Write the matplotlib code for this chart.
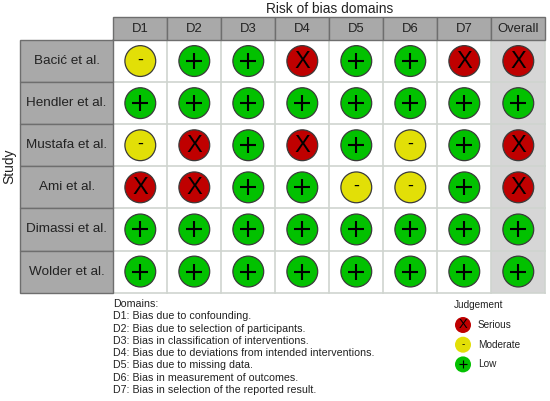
import matplotlib
matplotlib.use("Agg")
import matplotlib.pyplot as plt
from matplotlib.patches import Rectangle, Circle

plt.rcParams["font.family"] = ["Liberation Sans", "DejaVu Sans"]

studies = ["Bacić et al.", "Hendler et al.", "Mustafa et al.", "Ami et al.",
           "Dimassi et al.", "Wolder et al."]
domains = ["D1", "D2", "D3", "D4", "D5", "D6", "D7", "Overall"]

# judgements per study: S = serious, M = moderate, L = low
judgements = [
    ["M", "L", "L", "S", "L", "L", "S", "S"],
    ["L", "L", "L", "L", "L", "L", "L", "L"],
    ["M", "S", "L", "S", "L", "M", "L", "S"],
    ["S", "S", "L", "L", "M", "M", "L", "S"],
    ["L", "L", "L", "L", "L", "L", "L", "L"],
    ["L", "L", "L", "L", "L", "L", "L", "L"],
]

domain_text = [
    "Domains:",
    "D1: Bias due to confounding.",
    "D2: Bias due to selection of participants.",
    "D3: Bias in classification of interventions.",
    "D4: Bias due to deviations from intended interventions.",
    "D5: Bias due to missing data.",
    "D6: Bias in measurement of outcomes.",
    "D7: Bias in selection of the reported result.",
]
legend_levels = ["S", "M", "L"]
legend_names = ["Serious", "Moderate", "Low"]

colors = {"S": "#BF0000", "M": "#E2DF07", "L": "#02C100"}
symbols = {"S": "X", "M": "-", "L": "+"}


def draw_symbol(ax, cx, cy, v, scale=1.0):
    if v == "L":
        ax.plot(cx, cy, marker="+", ms=11.5 * scale, mew=1.5 * scale,
                color="black", zorder=5)
    elif v == "S":
        ax.text(cx, cy + 0.8 * scale, "X", ha="center", va="center",
                fontsize=17 * scale, color="black", zorder=5)
    else:
        ax.text(cx, cy - 1.2 * scale, "-", ha="center", va="center",
                fontsize=13 * scale, color="black", zorder=5)


fig = plt.figure(figsize=(5.5, 4.01), dpi=100)
ax = fig.add_axes([0, 0, 1, 1])
ax.set_xlim(0, 550)
ax.set_ylim(401, 0)
ax.axis("off")

# grid geometry (pixels)
x0, cw = 113.3, 54.0
y0, rh = 40.0, 42.1
lab_x0 = 20.0
head_y0 = 17.3
ncol = len(domains)
nrow = len(studies)
x_end = x0 + cw * ncol

# background of overall column
ax.add_patch(Rectangle((x0 + cw * (ncol - 1), y0), cw, rh * nrow,
                       facecolor="#d6d6d6", edgecolor="none", zorder=0))
# cell grid lines
for i in range(nrow + 1):
    ax.plot([x0, x_end], [y0 + i * rh] * 2, color="#cfd4cf", lw=1.2, zorder=1)
for j in range(ncol + 1):
    ax.plot([x0 + j * cw] * 2, [y0, y0 + rh * nrow], color="#cfd4cf", lw=1.2, zorder=1)

# header cells
for j, d in enumerate(domains):
    ax.add_patch(Rectangle((x0 + j * cw, head_y0), cw, y0 - head_y0,
                           facecolor="#a9a9a9", edgecolor="#6e6e6e", lw=1.0, zorder=2))
    ax.text(x0 + (j + 0.5) * cw, (head_y0 + y0) / 2 + 0.5, d, ha="center", va="center",
            fontsize=9.4, color="#222222", zorder=3)

# study label cells
for i, s in enumerate(studies):
    ax.add_patch(Rectangle((lab_x0, y0 + i * rh), x0 - lab_x0, rh,
                           facecolor="#a9a9a9", edgecolor="#6e6e6e", lw=1.0, zorder=2))
    ax.text((lab_x0 + x0) / 2, y0 + (i + 0.5) * rh, s, ha="center", va="center",
            fontsize=9.7, color="#222222", zorder=3)

ax.text((x0 + x_end) / 2, 9, "Risk of bias domains", ha="center", va="center",
        fontsize=9.9, color="#222222")
ax.text(9, y0 + rh * nrow / 2, "Study", ha="center", va="center", rotation=90,
        fontsize=9.9, color="#222222")

# traffic lights
for i, row in enumerate(judgements):
    for j, v in enumerate(row):
        cx = x0 + (j + 0.5) * cw
        cy = y0 + (i + 0.5) * rh
        ax.add_patch(Circle((cx, cy), 15.4, facecolor=colors[v], edgecolor="#3a3a3a",
                            lw=0.9, zorder=4))
        draw_symbol(ax, cx, cy, v)

# domains text
for k, t in enumerate(domain_text):
    ax.text(x0, 304 + k * 12.3, t, ha="left", va="center", fontsize=7.7, color="#222222")

# judgement legend
ax.text(454, 305, "Judgement", ha="left", va="center", fontsize=7.2, color="#222222")
for k, (lv, nm) in enumerate(zip(legend_levels, legend_names)):
    cy = 325 + k * 19.7
    ax.add_patch(Circle((463, cy), 8, facecolor=colors[lv], edgecolor="none", zorder=4))
    draw_symbol(ax, 463, cy, lv, scale=0.55)
    ax.text(478, cy, nm, ha="left", va="center", fontsize=7.2, color="#222222")

fig.savefig("out.png", dpi=100)
